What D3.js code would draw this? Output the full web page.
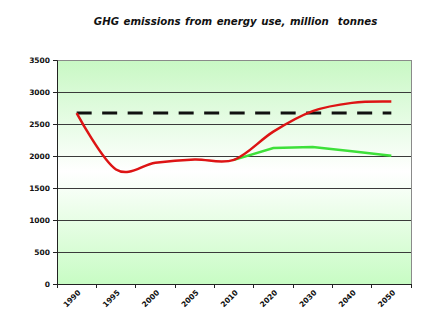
<!DOCTYPE html>
<html><head><meta charset="utf-8">
<script src="https://cdn.jsdelivr.net/npm/d3@7"></script>
<style>body{margin:0;background:#fff}svg{display:block}</style>
</head><body>
<script>
const categories = ["1990","1995","2000","2005","2010","2020","2030","2040","2050"];
const redSeries = [2670,1790,1895,1945,1940,2380,2700,2830,2850];
const greenSeries = [null,null,null,null,1940,2125,2140,2075,2005];
const targetSeries = [2670,2670,2670,2670,2670,2670,2670,2670,2670];
const yTicks = [0,500,1000,1500,2000,2500,3000,3500];
const title = "GHG emissions from energy use, million\u00a0 tonnes";

const W=436,H=336, L=57, R=411, T=60, B=284;
const svg=d3.select("body").append("svg").attr("width",W).attr("height",H);
const defs=svg.append("defs");
const g=defs.append("linearGradient").attr("id","bg").attr("x1",0).attr("y1",0).attr("x2",0).attr("y2",1);
g.append("stop").attr("offset","0%").attr("stop-color","#c8f8c4");
g.append("stop").attr("offset","50%").attr("stop-color","#ffffff");
g.append("stop").attr("offset","100%").attr("stop-color","#c8fcc4");

const x=d3.scaleBand().domain(categories).range([L,R]).padding(0);
const y=d3.scaleLinear().domain([0,3500]).range([B,T]);

svg.append("rect").attr("x",L).attr("y",T).attr("width",R-L).attr("height",B-T).attr("fill","url(#bg)");

// gridlines
svg.append("g").selectAll("line").data(yTicks.filter(v=>v>0&&v<3500)).join("line")
  .attr("x1",L).attr("x2",R).attr("y1",d=>y(d)).attr("y2",d=>y(d))
  .attr("stroke","#3a3a3a").attr("stroke-width",1).attr("shape-rendering","crispEdges");
// border top/right
svg.append("path").attr("d",`M${L},${y(3500)}H${R}V${B}`).attr("fill","none")
  .attr("stroke","#8a8a8a").attr("stroke-width",1).attr("shape-rendering","crispEdges");

// y axis
const ya=svg.append("g").attr("transform",`translate(${L},0)`)
  .call(d3.axisLeft(y).tickValues(yTicks).tickSize(4).tickPadding(3).tickFormat(d3.format("d")));
ya.select(".domain").attr("stroke","#222");
ya.selectAll(".tick line").attr("stroke","#222");
ya.selectAll("text").attr("font-family","DejaVu Sans").attr("font-weight","bold").attr("font-size","7.5px").attr("fill","#111");

// x axis
const xa=svg.append("g").attr("transform",`translate(0,${B})`)
  .call(d3.axisBottom(x).tickSize(0).tickPadding(0));
xa.select(".domain").attr("stroke","#222");
xa.selectAll(".tick text").attr("font-family","DejaVu Sans").attr("font-weight","bold").attr("font-size","7.5px").attr("fill","#111")
  .attr("text-anchor","end").attr("dy",null).attr("y",0)
  .attr("transform","translate(4.5,9) rotate(-45)");
// boundary ticks
const bounds=categories.map(c=>x(c)).concat([x(categories[categories.length-1])+x.bandwidth()]);
svg.append("g").selectAll("line").data(bounds).join("line")
  .attr("x1",d=>d).attr("x2",d=>d).attr("y1",B).attr("y2",B+4)
  .attr("stroke","#222").attr("shape-rendering","crispEdges");

const cx=c=>x(c)+x.bandwidth()/2;
const idx=categories.map((c,i)=>i);
// dashed target
svg.append("path").datum(idx).attr("fill","none").attr("stroke","#111").attr("stroke-width",3)
  .attr("stroke-dasharray","15,10.5")
  .attr("d",d3.line().x(i=>cx(categories[i])).y(i=>y(targetSeries[i])));
// green
svg.append("path").datum(idx.filter(i=>greenSeries[i]!=null)).attr("fill","none").attr("stroke","#3ee03a").attr("stroke-width",2.5)
  .attr("d",d3.line().x(i=>cx(categories[i])).y(i=>y(greenSeries[i])));
// red smoothed
svg.append("path").datum(idx).attr("fill","none").attr("stroke","#dd1414").attr("stroke-width",2.5)
  .attr("d",d3.line().curve(d3.curveCatmullRom.alpha(0)).x(i=>cx(categories[i])).y(i=>y(redSeries[i])));

svg.append("text").attr("x",235.5).attr("y",25).attr("text-anchor","middle")
  .attr("font-family","DejaVu Sans").attr("font-weight","bold").attr("font-style","italic")
  .attr("font-size","10.2px").attr("word-spacing","1px").attr("fill","#111").text(title);
</script>
</body></html>
